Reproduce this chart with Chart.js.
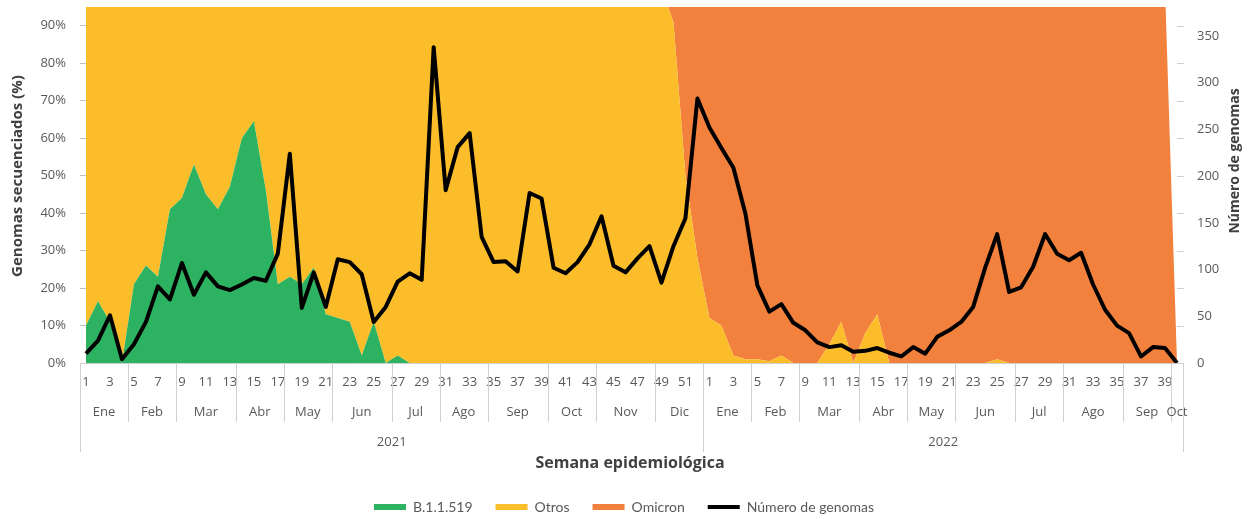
<!DOCTYPE html>
<html>
<head>
<meta charset="utf-8">
<script src="https://cdn.jsdelivr.net/npm/chart.js@4.4.0/dist/chart.umd.min.js"></script>
<style>
html,body{margin:0;padding:0;background:#fff;overflow:hidden;}
#wrap{width:1248px;height:519px;overflow:hidden;}
canvas{display:block;}
</style>
</head>
<body>
<div id="wrap"><canvas id="c" width="1248" height="524"></canvas></div>
<script>
// ---- tick labels / categories ----
const weeks2021 = [1,2,3,4,5,6,7,8,9,10,11,12,13,14,15,16,17,18,19,20,21,22,23,24,25,26,
  27,28,29,30,31,32,33,34,35,36,37,38,39,40,41,42,43,44,45,46,47,48,49,50,51,52];
const weeks2022 = [1,2,3,4,5,6,7,8,9,10,11,12,13,14,15,16,17,18,19,20,
  21,22,23,24,25,26,27,28,29,30,31,32,33,34,35,36,37,38,39,40];
const monthNames = ["Ene","Feb","Mar","Abr","May","Jun","Jul","Ago","Sep","Oct","Nov","Dic",
  "Ene","Feb","Mar","Abr","May","Jun","Jul","Ago","Sep","Oct"];
const monthWeeks = [4,4,5,4,4,5,4,4,5,4,5,4, 4,4,5,4,4,5,4,5,4,1];
const years = ["2021","2022"];
const yearWeeks = [52,40];

// ---- series: % of sequenced genomes (2021: 52 weeks, 2022: 40 weeks) ----
const b11519_2021 = [
  10,16.5,11,0,21,26,23,41,44,53,45,41,47,
  60,64.5,46,21,23,21,25.5,13,12,11,2,11,0,
  2,0,0,0,0,0,0,0,0,0,0,0,0,
  0,0,0,0,0,0,0,0,0,0,0,0,0];
const b11519_2022 = [
  0,0,0,0,0,0,0,0,0,0,
  0,0,0,0,0,0,0,0,0,0,
  0,0,0,0,0,0,0,0,0,0,
  0,0,0,0,0,0,0,0,0,0];
const otros2021 = [
  90,83.5,89,100,79,74,77,59,56,47,55,59,53,
  40,35.5,54,79,77,79,74.5,87,88,89,98,89,100,
  98,100,100,100,100,100,100,100,100,100,100,100,100,
  100,100,100,100,100,100,100,100,100,100,91,50,28];
const otros2022 = [
  12,10,2,1,1,0.5,2,0,0,0,
  5,11,0,8,13,0,0,0,0,0,
  0,0,0,0,1,0,0,0,0,0,
  0,0,0,0,0,0,0,0,0,0];
const omicron2021 = [
  0,0,0,0,0,0,0,0,0,0,0,0,0,
  0,0,0,0,0,0,0,0,0,0,0,0,0,
  0,0,0,0,0,0,0,0,0,0,0,0,0,
  0,0,0,0,0,0,0,0,0,0,9,50,72];
const omicron2022 = [
  88,90,98,99,99,99.5,98,100,100,100,
  95,89,100,92,87,100,100,100,100,100,
  100,100,100,100,99,100,100,100,100,100,
  100,100,100,100,100,100,100,100,100,0];
// ---- number of genomes (right axis) ----
const genomas2021 = [
  10,24,51,4,20,44,82,68,107,73,97,82,78,
  84,91,88,117,224,59,97,60,111,108,95,44,60,
  87,96,89,338,185,231,246,135,108,109,98,182,176,
  102,96,108,127,157,104,97,112,125,86,125,155,283];
const genomas2022 = [
  252,230,209,160,83,55,63,43,35,22,
  17,19,12,13,16,11,7,17,10,28,
  35,44,60,102,138,76,81,103,138,117,
  110,118,84,57,40,32,7,17,16,0];

const weekLabels = weeks2021.concat(weeks2022);
const dataB = b11519_2021.concat(b11519_2022);
const dataOtros = otros2021.concat(otros2022);
const dataOmicron = omicron2021.concat(omicron2022);
const dataGenomas = genomas2021.concat(genomas2022);

const TXT = '#595959';
const TITLE = '#404040';
const SEP = '#d0d0d0';

const decor = {
  id: 'decor',
  afterDraw(chart) {
    const {ctx, chartArea: a, scales} = chart;
    const x = scales.x, yl = scales.y;
    const step = x.getPixelForValue(1) - x.getPixelForValue(0);
    const edge = i => x.getPixelForValue(0) + (i - 0.5) * step;
    const px = v => Math.round(v) + 0.5;
    const vline = (xx, y0, y1) => { ctx.beginPath(); ctx.moveTo(px(xx), y0); ctx.lineTo(px(xx), y1); ctx.stroke(); };
    ctx.save();
    ctx.strokeStyle = SEP; ctx.lineWidth = 1;
    ctx.beginPath(); ctx.moveTo(edge(0), px(a.bottom)); ctx.lineTo(edge(weekLabels.length), px(a.bottom)); ctx.stroke();
    ctx.fillStyle = TXT; ctx.font = '13px "Open Sans"'; ctx.textAlign = 'center'; ctx.textBaseline = 'middle';
    let i0 = 0;
    monthWeeks.forEach((n, k) => {
      const x0 = edge(i0), x1 = edge(i0 + n);
      vline(x0, a.bottom, a.bottom + 59);
      ctx.fillText(monthNames[k], (x0 + x1) / 2, a.bottom + 49);
      i0 += n;
    });
    i0 = 0;
    years.forEach((yr, k) => {
      const n = yearWeeks[k];
      const x0 = edge(i0), x1 = edge(i0 + n);
      vline(x0, a.bottom, a.bottom + 89);
      ctx.fillText(yr, (x0 + x1) / 2, a.bottom + 79);
      i0 += n;
    });
    vline(edge(i0), a.bottom, a.bottom + 89);
    yl.ticks.forEach(t => {
      const yy = px(yl.getPixelForValue(t.value));
      ctx.beginPath(); ctx.moveTo(a.right, yy); ctx.lineTo(a.right + 7, yy); ctx.stroke();
    });
    ctx.fillStyle = TITLE;
    ctx.font = 'bold 16px "Open Sans"';
    ctx.fillText('Semana epidemiológica', 630, a.bottom + 100);
    ctx.save();
    ctx.translate(18, 176); ctx.rotate(-Math.PI / 2);
    ctx.font = 'bold 15px "Open Sans"';
    ctx.fillText('Genomas secuenciados (%)', 0, 0);
    ctx.restore();
    ctx.save();
    ctx.translate(1235, 161); ctx.rotate(-Math.PI / 2);
    ctx.font = 'bold 14px "Open Sans"';
    ctx.fillText('Número de genomas', 0, 0);
    ctx.restore();
    ctx.restore();
  }
};

const areaDs = (label, data, color, fill) => ({
  type: 'line', label, data, fill,
  backgroundColor: color, borderColor: color, borderWidth: 0,
  pointRadius: 0, pointHoverRadius: 0, pointBorderWidth: 0, pointStyle: 'rect',
  pointBackgroundColor: color, tension: 0, yAxisID: 'y', order: 1
});

const fixVertical = w => s => { s.width = w; s.paddingTop = 0; s.paddingBottom = 0; };

new Chart(document.getElementById('c'), {
  type: 'line',
  data: {
    labels: weekLabels,
    datasets: [
      areaDs('B.1.1.519', dataB, '#2cb260', 'origin'),
      areaDs('Otros', dataOtros, '#fbbd2a', '-1'),
      areaDs('Omicron', dataOmicron, '#f1813c', '-1'),
      {
        type: 'line', label: 'Número de genomas', data: dataGenomas, yAxisID: 'y2',
        borderColor: '#000', backgroundColor: '#000', borderWidth: 4, fill: false,
        pointRadius: 0, pointHoverRadius: 0, pointBorderWidth: 4, pointStyle: 'line',
        borderJoinStyle: 'round', tension: 0, order: -1
      }
    ]
  },
  options: {
    responsive: false,
    animation: false,
    devicePixelRatio: 1,
    events: [],
    layout: { padding: { top: 7, left: 0, right: 0, bottom: 0 } },
    plugins: {
      tooltip: { enabled: false },
      legend: {
        position: 'bottom',
        labels: {
          usePointStyle: true, pointStyleWidth: 32, boxHeight: 6, padding: 23,
          color: TXT, font: { family: 'Lato', size: 14 },
          sort: (p, q) => p.datasetIndex - q.datasetIndex
        }
      }
    },
    scales: {
      x: {
        type: 'category', offset: false,
        grid: { display: false, drawTicks: false },
        border: { display: false },
        ticks: {
          autoSkip: false, maxRotation: 0, minRotation: 0, padding: 11,
          color: TXT, font: { family: 'Open Sans', size: 13 },
          callback: (v, i) => (weekLabels[i] % 2 === 1 ? String(weekLabels[i]) : '')
        },
        afterFit: s => { s.height = 114; s.paddingLeft = 0; s.paddingRight = 0; }
      },
      y: {
        position: 'left', stacked: true, min: 0, max: 95,
        grid: { display: true, drawOnChartArea: false, drawTicks: true, tickLength: 6, color: '#bfbfbf' },
        border: { display: false },
        ticks: {
          stepSize: 10, includeBounds: false, padding: 14,
          color: TXT, font: { family: 'Open Sans', size: 13 },
          callback: v => v + '%'
        },
        afterFit: fixVertical(86)
      },
      y2: {
        position: 'right', stacked: false, min: 0, max: 381,
        grid: { display: false, drawTicks: false },
        border: { display: false },
        ticks: {
          stepSize: 50, includeBounds: false, padding: 20,
          color: TXT, font: { family: 'Open Sans', size: 13 }
        },
        afterFit: fixVertical(71)
      }
    }
  },
  plugins: [decor]
});
</script>
</body>
</html>
